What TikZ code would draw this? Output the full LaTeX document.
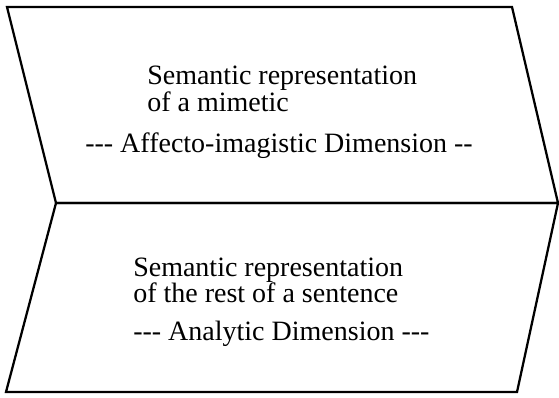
\documentclass[tikz,border=0pt]{standalone}
\usepackage{fontspec}
\setmainfont{Liberation Serif}
\usetikzlibrary{positioning}

\begin{document}
\begin{tikzpicture}[
  x=0.75pt, y=-0.75pt,
  band/.style={
    draw,
    line width=1.7pt,
    line join=miter
  },
  caption/.style={
    anchor=base west,
    inner sep=0pt,
    align=left,
    font=\fontsize{21}{24}\selectfont
  }
]
\useasboundingbox (0,0) rectangle (559,397);

% corners of the two bands
\coordinate (tl) at (7,7);
\coordinate (tr) at (512,7);
\coordinate (mr) at (558,203);
\coordinate (ml) at (56,203);
\coordinate (bl) at (6,392);
\coordinate (br) at (517,392);

\draw[band] (tl) -- (tr) -- (mr) -- (ml) -- cycle;
\draw[band] (ml) -- (mr) -- (br) -- (bl) -- cycle;

\node[caption] (mimsem) at (147,84) {Semantic representation};
\node[caption] (mimof) at (147,111) {of a mimetic};
\node[caption] (affect) at (85,152) {-{}-{}- Affecto-imagistic Dimension -{}-};

\node[caption] (sentsem) at (133,276) {Semantic representation};
\node[caption] (sentof) at (133,302) {of the rest of a sentence};
\node[caption] (analyt) at (133,340) {-{}-{}- Analytic Dimension -{}-{}-};

\end{tikzpicture}
\end{document}
